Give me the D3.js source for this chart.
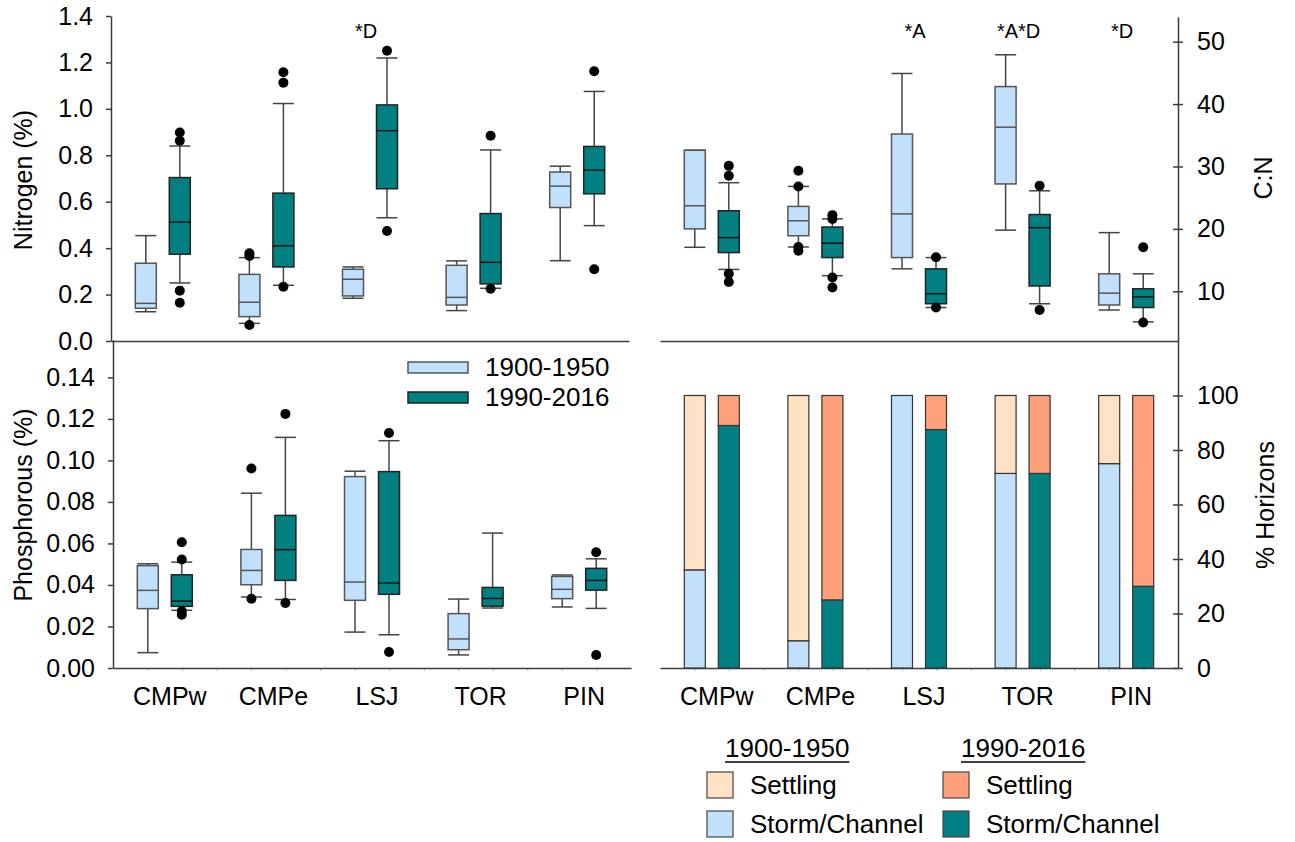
<!DOCTYPE html>
<html lang="en">
<head>
<meta charset="UTF-8" />
<title>sediment nitrogen, C:N, phosphorus and horizons</title>
<script src="https://d3js.org/d3.v7.min.js"></script>
<style>
  body { margin: 0; background: #fff; }
  text { font-family: Arial, "Liberation Sans", sans-serif; }
</style>
</head>
<body>
<script>

const WIDTH = 1295;
const HEIGHT = 842;

const SITES = ["CMPw", "CMPe", "LSJ", "TOR", "PIN"];
const PERIODS = ["1900-1950", "1990-2016"];

// box stats per site: [lower whisker, q1, median, q3, upper whisker]
const nitrogenOld = [
  [0.126, 0.141, 0.162, 0.335, 0.454],
  [0.076, 0.105, 0.167, 0.287, 0.359],
  [0.184, 0.194, 0.266, 0.309, 0.319],
  [0.131, 0.155, 0.188, 0.326, 0.345],
  [0.346, 0.575, 0.667, 0.728, 0.753]
];
const nitrogenNew = [
  [0.250, 0.374, 0.512, 0.704, 0.840],
  [0.240, 0.319, 0.410, 0.637, 1.023],
  [0.531, 0.656, 0.906, 1.017, 1.219],
  [0.227, 0.246, 0.339, 0.549, 0.823],
  [0.497, 0.634, 0.736, 0.838, 1.075]
];
const nitrogenOldOut = [[], [0.069, 0.366, 0.378], [], [], []];
const nitrogenNewOut = [[0.165, 0.217, 0.863, 0.898], [0.234, 1.113, 1.158], [0.474, 1.25], [0.225, 0.884], [0.309, 1.162]];

const cnOld = [
  [17.05, 20.0, 23.7, 32.6, 32.6],
  [17.1, 18.9, 21.3, 23.6, 26.8],
  [13.6, 15.4, 22.4, 35.2, 44.9],
  [19.8, 27.2, 36.3, 42.8, 47.9],
  [7.0, 7.8, 9.7, 12.8, 19.4]
];
const cnNew = [
  [13.5, 16.2, 18.6, 22.9, 27.4],
  [12.5, 15.4, 17.7, 20.3, 21.6],
  [7.4, 8.0, 9.6, 13.6, 15.4],
  [8.0, 10.85, 20.2, 22.3, 26.1],
  [5.1, 7.4, 9.1, 10.4, 12.8]
];
const cnOldOut = [[], [16.5, 17.1, 26.8, 29.3], [], [], []];
const cnNewOut = [[11.5, 12.8, 28.5, 30.1], [10.6, 12.2, 21.6, 22.2], [7.4, 15.45], [7.0, 26.9], [5.0, 17.05]];

const phosOld = [
  [0.0074, 0.0286, 0.0374, 0.0493, 0.0502],
  [0.0342, 0.0401, 0.0470, 0.0571, 0.0842],
  [0.0173, 0.0326, 0.0414, 0.0922, 0.0948],
  [0.0063, 0.0088, 0.0140, 0.0262, 0.0332],
  [0.0294, 0.0334, 0.0379, 0.0441, 0.0448]
];
const phosNew = [
  [0.0278, 0.0297, 0.0322, 0.0449, 0.0510],
  [0.0330, 0.0422, 0.0570, 0.0735, 0.1111],
  [0.0160, 0.0355, 0.0409, 0.0946, 0.1095],
  [0.0289, 0.0298, 0.0335, 0.0388, 0.0650],
  [0.0287, 0.0375, 0.0422, 0.0480, 0.0526]
];
const phosOldOut = [[], [0.0334, 0.0961], [], [], []];
const phosNewOut = [[0.0257, 0.0274, 0.0523, 0.0606], [0.0313, 0.1224], [0.0077, 0.1132], [], [0.0063, 0.0558]];

// % of horizons that are storm/channel deposits (rest is settling)
const stormOld = [36, 10, 100, 71.4, 75];
const stormNew = [89, 25, 87.5, 71.4, 30];

const nitrogenTicks = [0, 0.2, 0.4, 0.6, 0.8, 1.0, 1.2, 1.4];
const cnTicks = [10, 20, 30, 40, 50];
const phosTicks = [0, 0.02, 0.04, 0.06, 0.08, 0.10, 0.12, 0.14];
const horizonTicks = [0, 20, 40, 60, 80, 100];

const nitrogenNoteSites = ["LSJ"];
const nitrogenNotes = ["*D"];
const cnNoteSites = ["LSJ", "TOR", "PIN"];
const cnNotes = ["*A", "*A*D", "*D"];

const LIGHT = "#C0E0FC";
const TEAL = "#008080";
const PEACH = "#FFE2C4";
const SALMON = "#FFA07A";
const AXIS = "#3c3c3c";
const BOX_W = 21;

const svg = d3.select("body").append("svg")
    .attr("width", WIDTH)
    .attr("height", HEIGHT);

// scales
const xTop = d3.scaleBand().domain(SITES).range([111, 629]);
const xBot = d3.scaleBand().domain(SITES).range([113, 631]);
const xRight = d3.scaleBand().domain(SITES).range([660, 1178]);
const xPeriod = d3.scaleBand().domain(PERIODS).range([-34, 34]);

const yN = d3.scaleLinear().domain([0, 1.4]).range([341, 16]);
const yCN = d3.scaleLinear().domain([2, 54]).range([341.2, 16.7]);
const yP = d3.scaleLinear().domain([0, 0.158]).range([668, 340]);
const yH = d3.scaleLinear().domain([0, 120]).range([668, 341]);

function styleAxis(g) {
  g.attr("color", AXIS);
  g.selectAll("path, line").attr("stroke-width", 1.5);
  g.selectAll("text").attr("fill", "#000").attr("font-size", 25);
}

function leftAxis(y, x, ticks, fmt) {
  svg.append("g")
    .attr("transform", `translate(${x},0)`)
    .call(d3.axisLeft(y).tickValues(ticks).tickFormat(d3.format(fmt))
      .tickSize(5).tickSizeOuter(0).tickPadding(13))
    .call(styleAxis);
}

function rightAxis(y, ticks) {
  svg.append("g")
    .attr("transform", "translate(1178,0)")
    .call(d3.axisRight(y).tickValues(ticks).tickSize(5).tickSizeOuter(0).tickPadding(14))
    .call(styleAxis)
    .call(g => g.selectAll(".tick line").attr("x1", -5));
}

function xAxis(x, y, labels) {
  const g = svg.append("g")
    .attr("transform", `translate(0,${y})`)
    .call(d3.axisBottom(x).tickSize(0).tickSizeOuter(0).tickPadding(19)
      .tickFormat(labels ? null : ""))
    .call(styleAxis);
  g.selectAll("text").attr("dx", 5);
}

// faint minor ticks every third of a group along the bottom axes
function minorTicks(x, y) {
  const thirds = d3.scaleLinear().domain([0, SITES.length * 3]).range(x.range());
  svg.append("g")
    .attr("transform", `translate(0,${y})`)
    .call(d3.axisBottom(thirds).tickValues(d3.range(1, SITES.length * 3)).tickSize(3).tickFormat(""))
    .call(g => g.select(".domain").remove())
    .attr("color", "#bbb");
}

function boxes(x, y, stats, outliers, period, fill, stroke, medColor) {
  const rows = SITES.map((s, i) => ({site: s, st: stats[i], out: outliers[i]}));
  const item = svg.append("g").selectAll("g")
    .data(rows)
    .join("g")
      .attr("transform", d => `translate(${x(d.site) + x.bandwidth() / 2 + xPeriod(period) + xPeriod.bandwidth() / 2},0)`);

  item.append("line")
    .attr("y1", d => y(d.st[0])).attr("y2", d => y(d.st[1]))
    .attr("stroke", "#444").attr("stroke-width", 1.5);
  item.append("line")
    .attr("y1", d => y(d.st[3])).attr("y2", d => y(d.st[4]))
    .attr("stroke", "#444").attr("stroke-width", 1.5);
  [0, 4].forEach(k => {
    item.append("line")
      .attr("x1", -BOX_W / 2).attr("x2", BOX_W / 2)
      .attr("y1", d => y(d.st[k])).attr("y2", d => y(d.st[k]))
      .attr("stroke", "#444").attr("stroke-width", 1.5);
  });
  item.append("rect")
    .attr("x", -BOX_W / 2)
    .attr("width", BOX_W)
    .attr("y", d => y(d.st[3]))
    .attr("height", d => y(d.st[1]) - y(d.st[3]))
    .attr("fill", fill)
    .attr("stroke", stroke)
    .attr("stroke-width", 1.5);
  item.append("line")
    .attr("x1", -BOX_W / 2).attr("x2", BOX_W / 2)
    .attr("y1", d => y(d.st[2])).attr("y2", d => y(d.st[2]))
    .attr("stroke", medColor).attr("stroke-width", 1.5);
  item.selectAll("circle")
    .data(d => d.out)
    .join("circle")
      .attr("cy", d => y(d))
      .attr("r", 5)
      .attr("fill", "#000");
}

function notes(x, sites, texts) {
  svg.append("g").selectAll("text")
    .data(sites)
    .join("text")
      .attr("x", d => x(d) + x.bandwidth() / 2 - 4)
      .attr("y", 38)
      .attr("text-anchor", "middle")
      .attr("font-size", 20)
      .text((d, i) => texts[i]);
}

function yTitle(x, y, label) {
  svg.append("text")
    .attr("transform", `translate(${x},${y}) rotate(-90)`)
    .attr("text-anchor", "middle")
    .attr("dominant-baseline", "central")
    .attr("font-size", 25)
    .text(label);
}

// ---- top left: nitrogen
xAxis(xTop, 341, false);
leftAxis(yN, 111, nitrogenTicks, ".1f");
boxes(xTop, yN, nitrogenOld, nitrogenOldOut, PERIODS[0], LIGHT, "#555", "#555");
boxes(xTop, yN, nitrogenNew, nitrogenNewOut, PERIODS[1], TEAL, "#222", "#111");
notes(xTop, nitrogenNoteSites, nitrogenNotes);
yTitle(23, 180, "Nitrogen (%)");

// ---- top right: C:N
xAxis(xRight, 341, false);
rightAxis(yCN, cnTicks);
boxes(xRight, yCN, cnOld, cnOldOut, PERIODS[0], LIGHT, "#555", "#555");
boxes(xRight, yCN, cnNew, cnNewOut, PERIODS[1], TEAL, "#222", "#111");
notes(xRight, cnNoteSites, cnNotes);
yTitle(1263, 178, "C:N");

// ---- bottom left: phosphorous
minorTicks(xBot, 668);
xAxis(xBot, 668, true);
leftAxis(yP, 113, phosTicks, ".2f");
boxes(xBot, yP, phosOld, phosOldOut, PERIODS[0], LIGHT, "#555", "#555");
boxes(xBot, yP, phosNew, phosNewOut, PERIODS[1], TEAL, "#222", "#111");
yTitle(23, 505, "Phosphorous (%)");

// legend for box plots
const boxLegend = svg.append("g");
PERIODS.forEach((p, i) => {
  boxLegend.append("rect")
    .attr("x", 408).attr("y", 362 + i * 30)
    .attr("width", 60).attr("height", 11)
    .attr("fill", i === 0 ? LIGHT : TEAL)
    .attr("stroke", i === 0 ? "#555" : "#222")
    .attr("stroke-width", 1.5);
  boxLegend.append("text")
    .attr("x", 485).attr("y", 367 + i * 30)
    .attr("dominant-baseline", "central")
    .attr("font-size", 26)
    .text(p);
});

// ---- bottom right: % horizons
minorTicks(xRight, 668);
xAxis(xRight, 668, true);
rightAxis(yH, horizonTicks);

const barColors = [[LIGHT, PEACH], [TEAL, SALMON]];
[stormOld, stormNew].forEach((storm, pi) => {
  const rows = SITES.map((s, i) => ({site: s, storm: storm[i], settling: 100 - storm[i]}));
  const series = d3.stack().keys(["storm", "settling"])(rows);
  svg.append("g")
    .selectAll("g")
    .data(series)
    .join("g")
      .attr("fill", (d, k) => barColors[pi][k])
    .selectAll("rect")
    .data(d => d.filter(v => v[1] > v[0]))
    .join("rect")
      .attr("x", d => xRight(d.data.site) + xRight.bandwidth() / 2 + xPeriod(PERIODS[pi]) + xPeriod.bandwidth() / 2 - BOX_W / 2)
      .attr("width", BOX_W)
      .attr("y", d => yH(d[1]))
      .attr("height", d => yH(d[0]) - yH(d[1]))
      .attr("stroke", "#333")
      .attr("stroke-width", 1.2);
});
yTitle(1265, 505, "% Horizons");

// legend for stacked bars
const barLegend = svg.append("g");
const legendCols = [707, 943];
PERIODS.forEach((p, i) => {
  const x0 = legendCols[i];
  const title = barLegend.append("text")
    .attr("x", x0 + 18).attr("y", 757)
    .attr("font-size", 26)
    .text(p);
  const w = title.node().getComputedTextLength();
  barLegend.append("line")
    .attr("x1", x0 + 18).attr("x2", x0 + 18 + w)
    .attr("y1", 762).attr("y2", 762)
    .attr("stroke", "#000").attr("stroke-width", 1.5);
  ["Settling", "Storm/Channel"].forEach((lab, k) => {
    barLegend.append("rect")
      .attr("x", x0).attr("y", 772 + k * 39)
      .attr("width", 26).attr("height", 26)
      .attr("fill", barColors[i][1 - k])
      .attr("stroke", "#444")
      .attr("stroke-width", 1.2);
    barLegend.append("text")
      .attr("x", x0 + 43).attr("y", 785 + k * 39)
      .attr("dominant-baseline", "central")
      .attr("font-size", 26)
      .text(lab);
  });
});

</script>
</body>
</html>
